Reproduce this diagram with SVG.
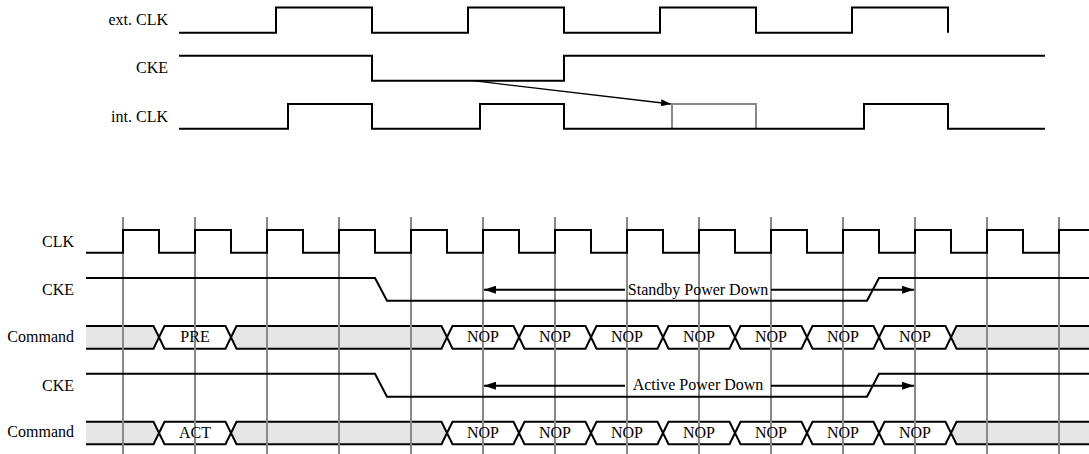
<svg xmlns="http://www.w3.org/2000/svg" width="1089" height="454" viewBox="0 0 1089 454">
<style>
.sig{fill:none;stroke:#000;stroke-width:2;stroke-linejoin:miter}
.grid{stroke:#888;stroke-width:2}
.lbl{font-family:"Liberation Serif","Times New Roman",serif;font-size:16px;fill:#000}
.r{text-anchor:end}
.c{text-anchor:middle}
.bus{fill:#fff;stroke:#000;stroke-width:2}
.busg{fill:#e5e5e5;stroke:#000;stroke-width:2}
.thin{fill:none;stroke:#000;stroke-width:1.3}
</style>
<defs>
<marker id="ah" markerUnits="userSpaceOnUse" markerWidth="12" markerHeight="8" refX="12" refY="4" orient="auto-start-reverse" viewBox="0 0 12 8">
<path d="M0,0 L12,4 L0,8 Z" fill="#000"/>
</marker>
<marker id="ah2" markerUnits="userSpaceOnUse" markerWidth="10" markerHeight="7" refX="10" refY="3.5" orient="auto" viewBox="0 0 10 7">
<path d="M0,0 L10,3.5 L0,7 Z" fill="#000"/>
</marker>
</defs>

<!-- Top section -->
<g id="top-labels">
<text class="lbl r" x="168" y="25">ext. CLK</text>
<text class="lbl r" x="168" y="73.3">CKE</text>
<text class="lbl r" x="168" y="121.7">int. CLK</text>
</g>
<g id="top-extclk">
<path class="sig" d="M179,32.7 H276 V7.5 H372 V32.7 H468 V7.5 H564 V32.7 H660 V7.5 H756 V32.7 H852 V7.5 H948 V32.7"/>
</g>
<g id="top-cke">
<path class="sig" d="M179,55.7 H372 V80.7 H564 V55.7 H1045"/>
</g>
<g id="top-intclk">
<path d="M672,128.7 V104 H756 V128.7" fill="none" stroke="#888" stroke-width="2"/>
<path class="sig" d="M179,128.7 H288 V104 H372 V128.7 H480 V104 H564 V128.7 H864 V104 H948 V128.7 H1045"/>
</g>
<g id="top-connectors">
<line class="thin" x1="473" y1="80.7" x2="671" y2="104" marker-end="url(#ah2)"/>
</g>

<!-- Bottom section: fills -->
<g id="cmd1">
<path class="busg" d="M86,326 H153.5 L159,337.3 L153.5,348.7 H86"/>
<path class="bus" d="M159,337.3 L164.5,326 H225.5 L231,337.3 L225.5,348.7 H164.5 Z"/>
<path class="busg" d="M231,337.3 L236.5,326 H441.5 L447,337.3 L441.5,348.7 H236.5 Z"/>
<path class="bus" d="M447,337.3 L452.5,326 H513.5 L519,337.3 L513.5,348.7 H452.5 Z"/>
<path class="bus" d="M519,337.3 L524.5,326 H585.5 L591,337.3 L585.5,348.7 H524.5 Z"/>
<path class="bus" d="M591,337.3 L596.5,326 H657.5 L663,337.3 L657.5,348.7 H596.5 Z"/>
<path class="bus" d="M663,337.3 L668.5,326 H729.5 L735,337.3 L729.5,348.7 H668.5 Z"/>
<path class="bus" d="M735,337.3 L740.5,326 H801.5 L807,337.3 L801.5,348.7 H740.5 Z"/>
<path class="bus" d="M807,337.3 L812.5,326 H873.5 L879,337.3 L873.5,348.7 H812.5 Z"/>
<path class="bus" d="M879,337.3 L884.5,326 H945.5 L951,337.3 L945.5,348.7 H884.5 Z"/>
<path class="busg" d="M1095,326 H956.5 L951,337.3 L956.5,348.7 H1095"/>
</g>
<g id="cmd2">
<path class="busg" d="M86,421.7 H153.5 L159,433 L153.5,444.3 H86"/>
<path class="bus" d="M159,433 L164.5,421.7 H225.5 L231,433 L225.5,444.3 H164.5 Z"/>
<path class="busg" d="M231,433 L236.5,421.7 H441.5 L447,433 L441.5,444.3 H236.5 Z"/>
<path class="bus" d="M447,433 L452.5,421.7 H513.5 L519,433 L513.5,444.3 H452.5 Z"/>
<path class="bus" d="M519,433 L524.5,421.7 H585.5 L591,433 L585.5,444.3 H524.5 Z"/>
<path class="bus" d="M591,433 L596.5,421.7 H657.5 L663,433 L657.5,444.3 H596.5 Z"/>
<path class="bus" d="M663,433 L668.5,421.7 H729.5 L735,433 L729.5,444.3 H668.5 Z"/>
<path class="bus" d="M735,433 L740.5,421.7 H801.5 L807,433 L801.5,444.3 H740.5 Z"/>
<path class="bus" d="M807,433 L812.5,421.7 H873.5 L879,433 L873.5,444.3 H812.5 Z"/>
<path class="bus" d="M879,433 L884.5,421.7 H945.5 L951,433 L945.5,444.3 H884.5 Z"/>
<path class="busg" d="M1095,421.7 H956.5 L951,433 L956.5,444.3 H1095"/>
</g>

<g id="grid">
<line class="grid" x1="123" y1="217" x2="123" y2="454"/>
<line class="grid" x1="195" y1="217" x2="195" y2="454"/>
<line class="grid" x1="267" y1="217" x2="267" y2="454"/>
<line class="grid" x1="339" y1="217" x2="339" y2="454"/>
<line class="grid" x1="411" y1="217" x2="411" y2="454"/>
<line class="grid" x1="483" y1="217" x2="483" y2="454"/>
<line class="grid" x1="555" y1="217" x2="555" y2="454"/>
<line class="grid" x1="627" y1="217" x2="627" y2="454"/>
<line class="grid" x1="699" y1="217" x2="699" y2="454"/>
<line class="grid" x1="771" y1="217" x2="771" y2="454"/>
<line class="grid" x1="843" y1="217" x2="843" y2="454"/>
<line class="grid" x1="915" y1="217" x2="915" y2="454"/>
<line class="grid" x1="987" y1="217" x2="987" y2="454"/>
<line class="grid" x1="1059" y1="217" x2="1059" y2="454"/>
</g>

<g id="clk">
<path class="sig" d="M86,252.7 H123 V230 H159 V252.7 H195 V230 H231 V252.7 H267 V230 H303 V252.7 H339 V230 H375 V252.7 H411 V230 H447 V252.7 H483 V230 H519 V252.7 H555 V230 H591 V252.7 H627 V230 H663 V252.7 H699 V230 H735 V252.7 H771 V230 H807 V252.7 H843 V230 H879 V252.7 H915 V230 H951 V252.7 H987 V230 H1023 V252.7 H1059 V230 H1089"/>
</g>
<g id="cke1">
<path class="sig" d="M86,278 H375 L387,300.7 H867 L879,278 H1089"/>
</g>
<g id="cke2">
<path class="sig" d="M86,373.7 H375 L387,396.7 H867 L879,373.7 H1089"/>
</g>

<g id="connectors">
<line class="sig" x1="484" y1="289.7" x2="625" y2="289.7" marker-start="url(#ah)"/>
<line class="sig" x1="771" y1="289.7" x2="914" y2="289.7" marker-end="url(#ah)"/>
<line class="sig" x1="484" y1="385.7" x2="625" y2="385.7" marker-start="url(#ah)"/>
<line class="sig" x1="771" y1="385.7" x2="914" y2="385.7" marker-end="url(#ah)"/>
</g>

<g id="labels">
<text class="lbl r" x="74" y="246.7">CLK</text>
<text class="lbl r" x="74" y="295">CKE</text>
<text class="lbl r" x="74" y="341.7">Command</text>
<text class="lbl r" x="74" y="390.5">CKE</text>
<text class="lbl r" x="74" y="437">Command</text>
<text class="lbl c" x="698" y="294.5">Standby Power Down</text>
<text class="lbl c" x="698" y="390.3">Active Power Down</text>
<text class="lbl c" x="195" y="342">PRE</text>
<text class="lbl c" x="195" y="437.5">ACT</text>
<text class="lbl c" x="483" y="342">NOP</text>
<text class="lbl c" x="555" y="342">NOP</text>
<text class="lbl c" x="627" y="342">NOP</text>
<text class="lbl c" x="699" y="342">NOP</text>
<text class="lbl c" x="771" y="342">NOP</text>
<text class="lbl c" x="843" y="342">NOP</text>
<text class="lbl c" x="915" y="342">NOP</text>
<text class="lbl c" x="483" y="437.5">NOP</text>
<text class="lbl c" x="555" y="437.5">NOP</text>
<text class="lbl c" x="627" y="437.5">NOP</text>
<text class="lbl c" x="699" y="437.5">NOP</text>
<text class="lbl c" x="771" y="437.5">NOP</text>
<text class="lbl c" x="843" y="437.5">NOP</text>
<text class="lbl c" x="915" y="437.5">NOP</text>
</g>
</svg>
